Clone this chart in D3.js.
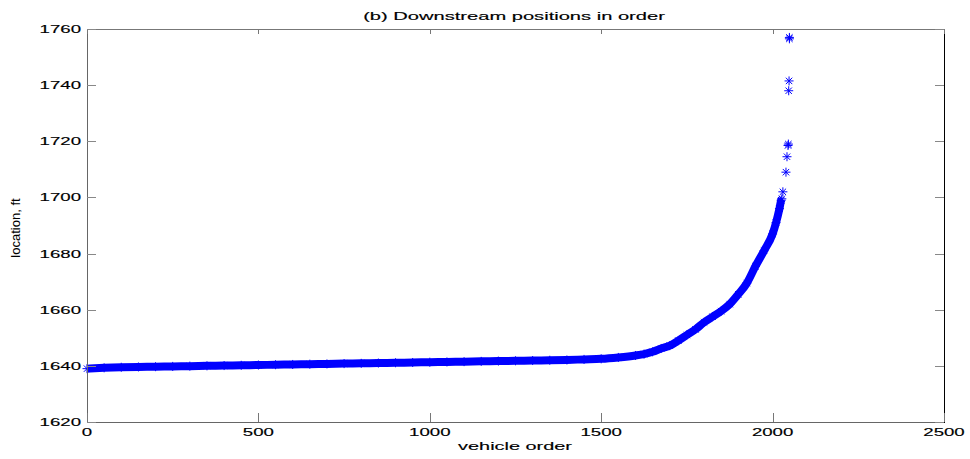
<!DOCTYPE html>
<html>
<head>
<meta charset="utf-8">
<script src="https://cdn.jsdelivr.net/npm/d3@7"></script>
<style>
  body { margin: 0; background: #fff; }
  text { font-family: "Liberation Sans", Arial, sans-serif; }
</style>
</head>
<body>
<div id="chart"></div>
<script>
var w = 970;
var h = 459;
var margin = { top: 29, right: 26, bottom: 37, left: 87 };

// vehicle order (sampled) and downstream location, ft
var vehicleOrder = [0, 50, 100, 150, 200, 250, 300, 350, 400, 450, 500, 550, 600, 650, 700,
  750, 800, 850, 900, 950, 1000, 1050, 1100, 1150, 1200, 1250, 1300, 1350, 1400, 1450,
  1500, 1550, 1600, 1625, 1650, 1675, 1700, 1725, 1750, 1775, 1800, 1825, 1850, 1875,
  1900, 1925, 1950, 1975, 2000, 2010, 2020, 2025, 2027, 2030, 2039, 2042, 2045, 2046,
  2047, 2048, 2049];
var location_ft = [1639.0, 1639.3, 1639.5, 1639.6, 1639.7, 1639.8, 1639.9, 1640.0, 1640.1,
  1640.2, 1640.3, 1640.4, 1640.5, 1640.6, 1640.7, 1640.8, 1640.9, 1641.0, 1641.1, 1641.2,
  1641.3, 1641.4, 1641.5, 1641.6, 1641.7, 1641.8, 1641.9, 1642.0, 1642.1, 1642.3, 1642.5,
  1643.0, 1643.7, 1644.2, 1645.0, 1646.2, 1647.2, 1649.0, 1651.0, 1653.0, 1655.5, 1657.5,
  1659.5, 1662.0, 1665.5, 1669.5, 1675.5, 1681.0, 1687.0, 1691.0, 1696.0, 1699.0, 1699.5,
  1702.0, 1709.0, 1714.5, 1718.5, 1719.0, 1738.0, 1741.5, 1756.5];
// last point overlaps a second one just below
var extraOrder = [2049];
var extraLoc = [1757.0];

var xTicks = [0, 500, 1000, 1500, 2000, 2500];
var yTicks = [1620, 1640, 1660, 1680, 1700, 1720, 1740, 1760];

var titleText = "(b) Downstream positions in order";
var xLabel = "vehicle order";
var yLabel = "location, ft";

var x0 = margin.left, x1 = w - margin.right;
var y0 = h - margin.bottom, y1 = margin.top;

var xScale = d3.scaleLinear().domain([0, 2500]).range([x0, x1]);
var yScale = d3.scaleLinear().domain([1620, 1760]).range([y0, y1]);

var svg = d3.select("#chart").append("svg").attr("width", w).attr("height", h);

var pts = vehicleOrder.map(function (d, i) {
  return [d, location_ft[i]];
});
var allPts = pts.concat(extraOrder.map(function (d, i) {
  return [d, extraLoc[i]];
}));

// dense band of markers drawn as a thick line under the asterisks
var linePts = pts.filter(function (d) { return d[0] <= 2027; });
svg
  .append("path")
  .datum(linePts)
  .attr("fill", "none")
  .attr("stroke", "#0000ff")
  .attr("stroke-width", 8)
  .attr("stroke-linejoin", "round")
  .attr("stroke-linecap", "butt")
  .attr("d", d3.line()
    .x(function (d) { return xScale(d[0]); })
    .y(function (d) { return yScale(d[1]); })
    .curve(d3.curveMonotoneX));

var star = "M-4.5,0H4.5M0,-4.5V4.5M-3.2,-3.2L3.2,3.2M-3.2,3.2L3.2,-3.2";
svg
  .selectAll("path.mk")
  .data(allPts)
  .enter()
  .append("path")
  .attr("class", "mk")
  .attr("d", star)
  .attr("transform", function (d) {
    return "translate(" + xScale(d[0]) + "," + yScale(d[1]) + ")";
  })
  .attr("fill", "none")
  .attr("stroke", "#0000ff")
  .attr("stroke-width", 1);

// box
svg.append("line").attr("x1", x0).attr("x2", x1).attr("y1", y1 + 0.5).attr("y2", y1 + 0.5)
  .attr("stroke", "#777");
svg.append("line").attr("x1", x0).attr("x2", x1).attr("y1", y0 + 0.5).attr("y2", y0 + 0.5)
  .attr("stroke", "#666");
svg.append("line").attr("x1", x0 + 0.5).attr("x2", x0 + 0.5).attr("y1", y1).attr("y2", y0)
  .attr("stroke", "#666");
svg.append("line").attr("x1", x1 + 0.5).attr("x2", x1 + 0.5).attr("y1", y1).attr("y2", y0 + 1)
  .attr("stroke", "#000");

// inward ticks, all four sides
var tl = 9;
xTicks.forEach(function (t) {
  var x = Math.round(xScale(t)) + 0.5;
  svg.append("line").attr("x1", x).attr("x2", x).attr("y1", y0).attr("y2", y0 - tl).attr("stroke", "#777");
  svg.append("line").attr("x1", x).attr("x2", x).attr("y1", y1).attr("y2", y1 + 5).attr("stroke", "#777");
});
yTicks.forEach(function (t) {
  var y = Math.round(yScale(t)) + 0.5;
  svg.append("line").attr("x1", x0).attr("x2", x0 + tl).attr("y1", y).attr("y2", y).attr("stroke", "#888");
  svg.append("line").attr("x1", x1).attr("x2", x1 - tl).attr("y1", y).attr("y2", y).attr("stroke", "#888");
});

function stretched(x, y, s, size, sx, anchor) {
  return svg
    .append("text")
    .attr("transform", "translate(" + x + "," + y + ") scale(" + sx + ",1)")
    .attr("font-size", size)
    .attr("text-anchor", anchor)
    .attr("fill", "#000")
    .attr("stroke", "#000")
    .attr("stroke-width", 0.15)
    .text(s);
}

xTicks.forEach(function (t) {
  stretched(xScale(t), 436, t, "11.5px", 1.62, "middle");
});
yTicks.forEach(function (t) {
  stretched(81, yScale(t) + 4, t, "11.5px", 1.62, "end");
});

stretched(514, 20, titleText, "11.5px", 1.75, "middle");
stretched(515, 450, xLabel, "11.5px", 1.73, "middle");

svg
  .append("text")
  .attr("transform", "translate(20,228) rotate(-90)")
  .attr("font-size", "13px")
  .attr("text-anchor", "middle")
  .attr("fill", "#000")
  .text(yLabel);
</script>
</body>
</html>
